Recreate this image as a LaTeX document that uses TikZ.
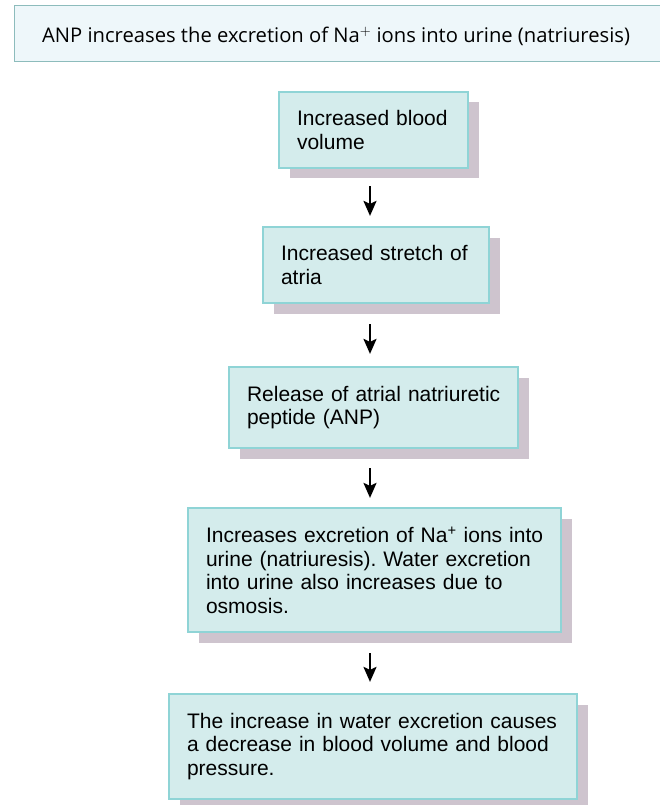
\documentclass[tikz,border=0pt]{standalone}
\usepackage{fontspec}
\setmainfont{Liberation Sans}
\newfontfamily\bannerfont{Open Sans}
\usetikzlibrary{arrows.meta,shadows}
\definecolor{boxfill}{HTML}{D4ECEC}
\definecolor{boxedge}{HTML}{8FD4D6}
\definecolor{shadowc}{HTML}{CEC4CE}
\definecolor{bannerfill}{HTML}{EEF7FA}
\definecolor{banneredge}{HTML}{8DBCBC}
\frenchspacing
\begin{document}
\begin{tikzpicture}[x=1pt,y=-1pt,
  flowbox/.style={draw=boxedge, line width=2.2pt, fill=boxfill, align=left,
    inner xsep=18pt, inner ysep=2pt, anchor=center,
    font=\fontsize{21}{23.5}\selectfont,
    drop shadow={shadow xshift=10.5pt, shadow yshift=-10.5pt, fill=shadowc, opacity=1}},
  flowarrow/.style={line width=2.3pt, -{Stealth[length=15pt,width=13pt,inset=3pt]}}]
\useasboundingbox (0,0) rectangle (660,805);
\fill[white] (0,0) rectangle (660,805);
% banner
\node (banner) [draw=banneredge, line width=1.4pt, fill=bannerfill,
  minimum width=648pt, minimum height=56pt, inner sep=0pt, anchor=north west] at (14,5) {};
\node (bannertext) [anchor=base west, inner sep=0pt, font=\bannerfont\fontsize{20.2}{22}\selectfont]
  at (42,43) {ANP increases the excretion of Na$^{+}$ ions into urine (natriuresis)};
% boxes
\node (b1) [flowbox, text width=153pt, minimum height=76pt] at (373.5,130)
  {\mbox{Increased blood}\\\mbox{volume}};
\node (b2) [flowbox, text width=190pt, minimum height=76pt] at (376,265)
  {\mbox{Increased stretch of}\\\mbox{atria}};
\node (b3) [flowbox, text width=253pt, minimum height=81pt] at (373.5,407.5)
  {\mbox{Release of atrial natriuretic}\\\mbox{peptide (ANP)}};
\node (b4) [flowbox, text width=337pt, minimum height=124pt] at (374.5,570)
  {\mbox{Increases excretion of Na\textsuperscript{+} ions into}\\\mbox{urine (natriuresis). Water excretion}\\\mbox{into urine also increases due to}\\\mbox{osmosis.}};
\node (b5) [flowbox, text width=372pt, minimum height=105pt] at (373,746.5)
  {\mbox{The increase in water excretion causes}\\\mbox{a decrease in blood volume and blood}\\\mbox{pressure.}};
% arrows
\coordinate (col) at (370,0);
\draw[flowarrow] ([yshift=-17pt]b1.south -| col) -- ([yshift=10pt]b2.north -| col);
\draw[flowarrow] ([yshift=-20pt]b2.south -| col) -- ([yshift=12pt]b3.north -| col);
\draw[flowarrow] ([yshift=-19pt]b3.south -| col) -- ([yshift=9pt]b4.north -| col);
\draw[flowarrow] ([yshift=-20pt]b4.south -| col) -- ([yshift=11pt]b5.north -| col);
\end{tikzpicture}
\end{document}
